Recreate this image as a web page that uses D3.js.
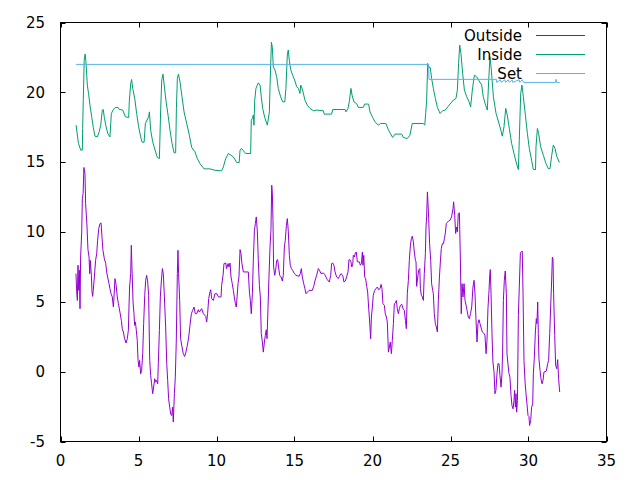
<!DOCTYPE html>
<html><head><meta charset="utf-8">
<script src="https://cdn.jsdelivr.net/npm/d3@7"></script>
<style>body{margin:0;background:#fff}svg{display:block}text{font-family:"DejaVu Sans",sans-serif;font-size:15px;fill:#000}</style>
</head><body><svg id="c" width="640" height="480"></svg>
<script>
const seriesNames = ["Outside","Inside","Set"];
const seriesColors = ["#9400d3","#009e73","#56b4e9"];
const xTicks = [0,5,10,15,20,25,30,35];
const yTicks = [-5,0,5,10,15,20,25];

const outsideX = [0.99,1.04,1.08,1.12,1.17,1.21,1.25,1.29,1.36,1.4,1.45,1.5,1.57,1.61,1.7,1.76,1.83,1.87,1.91,1.98,2.02,2.06,2.1,2.17,2.25,2.32,2.38,2.45,2.53,2.6,2.66,2.72,2.81,2.9,2.96,3.02,3.11,3.17,3.24,3.32,3.39,3.43,3.49,3.56,3.64,3.71,3.81,3.9,3.96,4.03,4.11,4.2,4.28,4.35,4.39,4.43,4.5,4.54,4.58,4.65,4.71,4.75,4.8,4.86,4.92,4.97,5.03,5.07,5.14,5.2,5.27,5.33,5.4,5.46,5.52,5.59,5.65,5.72,5.78,5.84,5.91,5.97,6.04,6.1,6.16,6.23,6.27,6.34,6.4,6.46,6.53,6.59,6.66,6.74,6.81,6.87,6.93,7.0,7.06,7.13,7.19,7.23,7.3,7.36,7.42,7.49,7.53,7.57,7.64,7.7,7.79,7.87,7.96,8.04,8.13,8.22,8.3,8.39,8.47,8.56,8.64,8.73,8.84,8.9,9.05,9.16,9.31,9.37,9.43,9.5,9.58,9.63,9.69,9.8,9.9,10.03,10.12,10.29,10.33,10.42,10.48,10.59,10.65,10.74,10.8,10.87,10.93,11.01,11.08,11.14,11.21,11.27,11.32,11.38,11.44,11.51,11.57,11.63,11.72,12.04,12.11,12.17,12.23,12.3,12.36,12.43,12.49,12.55,12.62,12.68,12.75,12.81,12.87,12.94,13.0,13.07,13.13,13.19,13.24,13.3,13.36,13.43,13.49,13.54,13.58,13.62,13.66,13.73,13.79,13.86,13.92,13.98,14.05,14.14,14.22,14.28,14.35,14.41,14.48,14.54,14.6,14.67,14.73,14.8,14.88,14.99,15.1,15.29,15.37,15.44,15.5,15.59,15.67,15.74,15.93,16.14,16.23,16.31,16.42,16.53,16.6,16.7,16.85,16.93,17.02,17.1,17.23,17.32,17.38,17.45,17.53,17.6,17.7,17.81,17.88,17.98,18.09,18.17,18.26,18.34,18.43,18.49,18.6,18.67,18.73,18.77,18.84,18.9,18.96,19.03,19.16,19.22,19.29,19.35,19.39,19.44,19.5,19.56,19.63,19.69,19.75,19.82,19.88,19.93,19.99,20.05,20.14,20.22,20.31,20.39,20.48,20.55,20.61,20.67,20.76,20.82,20.89,20.95,21.02,21.08,21.14,21.21,21.27,21.34,21.4,21.47,21.53,21.59,21.66,21.72,21.79,21.88,21.96,22.04,22.11,22.17,22.23,22.3,22.36,22.43,22.49,22.55,22.62,22.68,22.75,22.79,22.83,22.9,22.96,23.03,23.07,23.13,23.2,23.26,23.32,23.39,23.43,23.47,23.52,23.56,23.6,23.66,23.73,23.79,23.86,23.9,23.96,24.03,24.09,24.16,24.22,24.29,24.35,24.41,24.48,24.55,24.61,24.67,24.73,24.82,24.88,24.97,25.07,25.16,25.2,25.27,25.33,25.38,25.44,25.5,25.57,25.63,25.69,25.74,25.8,25.87,25.93,26.0,26.06,26.14,26.21,26.28,26.36,26.44,26.51,26.57,26.63,26.7,26.76,26.83,26.89,26.95,27.04,27.13,27.21,27.28,27.34,27.4,27.47,27.51,27.55,27.6,27.66,27.72,27.79,27.85,27.91,27.98,28.04,28.11,28.17,28.24,28.3,28.34,28.39,28.45,28.51,28.58,28.62,28.68,28.75,28.81,28.88,28.94,29.01,29.07,29.11,29.16,29.2,29.24,29.29,29.35,29.41,29.48,29.54,29.6,29.65,29.71,29.78,29.84,29.9,29.97,30.03,30.07,30.14,30.2,30.27,30.31,30.37,30.44,30.5,30.54,30.59,30.63,30.67,30.74,30.8,30.87,30.93,30.99,31.14,31.23,31.29,31.36,31.42,31.48,31.53,31.57,31.61,31.68,31.74,31.81,31.87,31.93,32.0];
const outsideY = [7.02,5.7,5.1,7.62,5.82,7.26,4.51,8.21,10.0,12.39,12.75,14.62,14.14,12.04,10.36,8.74,8.21,7.02,7.97,6.9,5.7,5.39,5.82,6.78,7.97,8.45,9.41,10.24,10.6,10.65,9.65,8.69,8.09,7.74,7.14,6.78,6.3,5.94,5.58,5.35,4.63,5.35,6.66,6.25,5.35,4.87,4.27,3.67,3.08,2.84,2.36,2.05,2.36,2.96,4.63,6.06,7.02,9.05,7.5,4.99,4.15,3.32,3.56,2.96,2.24,0.81,0.33,0.81,-0.15,0.09,1.29,3.44,5.47,6.54,6.9,6.42,5.47,0.81,-0.27,-0.87,-1.58,-1.1,-0.51,-0.75,-0.63,-0.87,0.57,2.96,5.35,6.42,7.38,7.02,5.35,3.2,0.57,-0.63,-1.94,-2.54,-3.02,-3.14,-2.54,-3.61,-1.58,-0.39,2.12,7.02,8.69,7.02,5.1,2.36,1.76,1.29,1.09,1.4,1.88,2.48,3.32,4.15,4.39,4.63,4.15,4.15,4.44,4.27,4.51,4.15,3.96,3.55,4.15,5.23,5.7,5.87,5.23,5.1,5.58,5.58,5.35,5.35,6.18,6.9,7.74,7.78,7.38,7.74,7.5,7.78,6.78,6.3,5.82,5.35,4.87,4.63,5.35,6.3,6.78,8.74,8.45,7.74,7.14,7.14,5.7,5.1,4.15,5.58,7.97,10.12,10.6,11.08,10.0,7.97,6.18,5.35,2.72,2.12,1.4,2.12,2.6,3.0,2.36,4.51,6.66,8.93,10.12,13.35,12.75,10.84,7.5,6.9,7.26,7.97,8.02,7.5,6.9,6.78,6.49,6.9,8.93,9.41,10.48,10.96,10.12,8.33,7.62,7.38,7.26,7.02,6.9,6.83,7.02,7.38,6.78,6.3,5.94,5.58,5.82,5.82,6.11,6.49,6.9,7.38,7.26,7.02,7.07,6.97,6.78,6.59,6.42,6.9,7.74,7.78,7.62,7.14,6.78,6.66,6.83,7.02,6.9,6.42,6.49,6.78,7.14,8.02,7.97,7.5,7.62,8.33,8.21,8.5,8.57,7.86,7.86,7.62,7.74,8.57,7.62,8.33,6.78,6.66,6.11,5.7,4.63,3.55,2.36,3.91,4.63,5.47,5.82,5.94,6.06,5.87,5.94,6.25,5.94,4.87,4.75,4.15,3.91,3.55,1.4,1.76,2.12,1.29,2.24,3.44,4.87,4.92,5.1,4.51,4.15,4.51,4.75,4.82,4.51,4.39,3.67,3.08,5.58,6.54,7.97,9.05,9.53,9.7,9.29,8.57,7.97,7.86,6.11,6.78,7.26,7.38,5.94,5.47,5.35,5.1,7.02,8.45,10.36,11.08,12.87,12.04,10.96,9.17,7.97,6.3,5.82,5.58,4.15,3.44,3.2,2.84,5.1,6.78,7.86,8.81,9.17,9.17,9.53,9.93,10.6,10.72,10.79,10.84,11.08,11.68,12.16,11.2,9.89,10.36,10.0,11.32,11.37,8.21,4.15,6.3,5.35,6.3,5.1,4.75,4.39,3.91,3.79,4.15,4.63,6.06,6.54,5.58,3.79,2.12,3.44,3.72,3.44,3.2,2.84,2.76,2.6,1.29,2.24,4.51,5.82,6.78,7.31,5.58,2.72,0.69,-0.03,-1.58,-1.34,-0.15,0.57,0.57,-0.27,-1.11,-0.15,1.4,5.1,6.54,7.21,5.58,1.29,0.57,-0.15,-0.39,-1.7,-2.42,-2.66,-2.06,-1.34,-2.54,-1.58,-2.9,-2.06,4.03,6.06,8.5,8.57,8.64,5.58,0.81,-0.75,-1.58,-2.3,-3.14,-3.21,-3.85,-3.5,-2.54,-2.3,-0.15,0.93,2.84,3.79,3.44,4.99,2.72,0.93,0.09,-0.51,-0.87,-0.63,-0.03,0.04,0.57,0.81,2.72,4.63,6.42,8.21,8.09,5.58,2.6,0.45,0.21,0.86,-0.51,-1.46];

const insideX = [1.0,1.15,1.3,1.4,1.42,1.46,1.52,1.58,1.63,1.72,1.8,1.89,2.0,2.1,2.21,2.36,2.48,2.58,2.68,2.74,2.81,2.9,3.03,3.17,3.26,3.39,3.52,3.69,3.77,3.99,4.16,4.37,4.41,4.5,4.56,4.63,4.76,4.88,5.01,5.14,5.23,5.36,5.44,5.65,5.7,5.78,5.91,6.06,6.21,6.34,6.42,6.49,6.57,6.66,6.77,6.91,7.02,7.15,7.28,7.38,7.43,7.49,7.56,7.66,7.79,7.92,8.09,8.26,8.41,8.62,8.77,8.94,9.2,9.58,9.9,10.33,10.44,10.59,10.76,11.08,11.3,11.45,11.51,11.6,11.87,12.19,12.23,12.3,12.36,12.4,12.45,12.53,12.68,12.79,12.87,12.96,13.09,13.26,13.39,13.43,13.52,13.58,13.64,13.75,13.86,13.96,14.11,14.24,14.38,14.45,14.54,14.6,14.67,14.75,14.88,15.01,15.14,15.25,15.35,15.4,15.52,15.67,15.82,15.99,16.21,16.4,16.85,16.9,17.38,17.45,18.24,18.3,18.43,18.51,18.62,18.69,18.81,18.98,19.09,19.41,19.5,19.75,19.84,20.01,20.16,20.37,20.52,20.86,21.01,21.12,21.29,21.44,21.87,21.98,22.23,22.4,22.55,23.26,23.35,23.41,23.47,23.54,23.62,23.7,23.79,23.9,24.03,24.16,24.33,24.5,24.67,24.86,25.18,25.35,25.44,25.52,25.59,25.67,25.78,25.89,26.04,26.19,26.29,26.4,26.53,26.68,26.83,27.0,27.1,27.25,27.36,27.45,27.53,27.6,27.75,27.92,28.17,28.32,28.43,28.54,28.64,28.77,28.92,29.07,29.2,29.35,29.41,29.5,29.58,29.67,29.8,29.93,30.05,30.2,30.31,30.45,30.48,30.57,30.65,30.78,30.95,31.12,31.27,31.38,31.49,31.59,31.7,31.81,31.98];
const insideY = [17.65,16.34,15.86,15.86,17.41,19.4,22.3,22.74,22.2,20.52,19.9,19.08,18.25,17.5,16.86,16.81,17.17,17.65,18.73,18.77,18.2,17.65,17.05,16.81,18.49,18.77,18.92,18.92,18.77,18.73,18.25,18.2,19.32,20.64,20.92,20.28,19.56,18.49,17.53,16.81,16.43,16.43,17.77,18.25,18.6,17.29,16.46,15.86,15.33,15.26,18.73,20.88,21.3,20.4,19.32,18.25,17.29,16.34,15.67,15.67,18.85,21.0,21.3,20.76,19.68,18.6,17.77,16.93,16.05,15.74,15.26,14.9,14.52,14.52,14.42,14.38,14.66,15.26,15.62,15.38,14.97,14.97,15.86,15.98,15.62,15.62,18.01,18.13,18.37,17.65,19.44,20.28,20.68,20.52,19.68,18.85,18.2,17.65,18.6,20.4,23.58,23.22,21.83,21.59,21.11,20.28,19.68,19.32,19.32,20.28,22.67,23.03,22.26,21.64,21.23,20.88,20.4,20.28,19.92,20.52,20.16,19.44,19.08,18.85,18.68,18.73,18.68,18.44,18.44,18.77,18.77,18.6,18.85,19.32,20.28,19.8,19.32,19.2,18.92,18.92,19.16,19.16,18.6,18.2,17.89,17.65,17.77,17.77,17.34,17.1,16.77,17.01,17.01,16.77,16.69,16.93,17.77,17.77,17.65,18.49,19.44,22.07,21.78,21.78,21.0,20.28,19.56,18.92,18.49,18.68,18.73,19.01,19.44,19.56,20.16,22.07,23.38,22.79,21.35,20.16,19.68,19.32,18.96,20.16,21.23,21.11,20.83,20.52,19.68,19.08,18.73,20.88,22.55,21.83,19.68,18.49,17.53,16.86,17.53,18.85,18.37,17.41,16.34,15.62,15.02,14.47,16.57,19.92,20.52,19.68,18.37,17.05,15.98,15.14,14.47,14.47,16.1,17.41,17.05,16.1,15.5,14.9,14.54,14.54,15.5,16.22,15.98,15.43,14.97];

const setX = [1.0,23.6,23.62,27.95,27.96,28.2,28.25,28.48,28.53,28.7,28.78,28.95,29.0,29.4,29.45,29.6,29.68,31.72,31.76,31.8,32.0];
const setY = [22.0,22.0,20.93,20.93,20.71,20.9,20.71,20.9,20.71,20.9,20.71,20.9,20.71,20.9,20.71,20.9,20.71,20.71,20.93,20.71,20.71];

const svg = d3.select("#c");
const L = 60.5, R = 606.5, T = 22.5, B = 441.5;
const x = d3.scaleLinear().domain([0,35]).range([L,R]);
const y = d3.scaleLinear().domain([-5,25]).range([B,T]);

const tl = 5;
const g = svg.append("g");
xTicks.forEach(t => {
  const px = Math.round(x(t)) + 0.5;
  g.append("line").attr("x1",px).attr("x2",px).attr("y1",B).attr("y2",B-tl).attr("stroke","#000");
  g.append("line").attr("x1",px).attr("x2",px).attr("y1",T).attr("y2",T+tl).attr("stroke","#000");
  g.append("text").attr("x",x(t)).attr("y",B+24).attr("text-anchor","middle").text(t);
});
yTicks.forEach(t => {
  const py = Math.round(y(t)) + 0.5;
  g.append("line").attr("x1",L).attr("x2",L+tl).attr("y1",py).attr("y2",py).attr("stroke","#000");
  g.append("line").attr("x1",R).attr("x2",R-tl).attr("y1",py).attr("y2",py).attr("stroke","#000");
  g.append("text").attr("x",45).attr("y",y(t)+5.3).attr("text-anchor","end").text(t);
});

const series = [
  {xs: outsideX, ys: outsideY},
  {xs: insideX, ys: insideY},
  {xs: setX, ys: setY}
];
const line = d3.line().x(d=>x(d[0])).y(d=>y(d[1]));
series.forEach((s,i) => {
  const pts = s.xs.map((v,j)=>[v, s.ys[j]]);
  svg.append("path").attr("d", line(pts)).attr("fill","none")
    .attr("stroke", seriesColors[i]).attr("stroke-width",1);
});

seriesNames.forEach((n,i) => {
  const cy = 35.5 + i*19;
  svg.append("text").attr("x",522).attr("y",cy+5.5).attr("text-anchor","end").text(n);
  svg.append("line").attr("x1",536).attr("x2",585).attr("y1",cy).attr("y2",cy)
    .attr("stroke",seriesColors[i]).attr("stroke-width",1);
});

svg.append("rect").attr("x",L).attr("y",T).attr("width",R-L).attr("height",B-T)
  .attr("fill","none").attr("stroke","#000").attr("stroke-width",1);
</script></body></html>
